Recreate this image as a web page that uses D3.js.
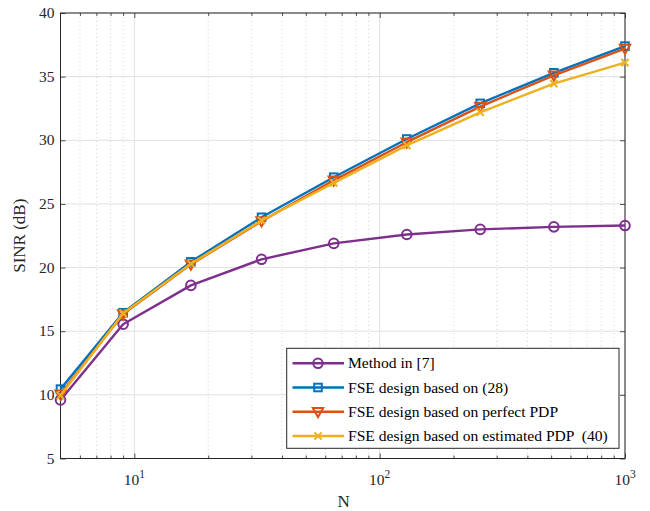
<!DOCTYPE html>
<html>
<head>
<meta charset="utf-8">
<script src="https://cdn.jsdelivr.net/npm/d3@7"></script>
<style>
  body { margin: 0; background: #fff; }
  svg text { font-family: "Liberation Serif", "Times New Roman", Tinos, "DejaVu Serif", serif; }
</style>
</head>
<body>
<div id="chart"></div>
<script>
// N values (x axis, log scale)
const nValues = [5, 9, 17, 33, 65, 129, 257, 513, 1000];

// SINR (dB) per series
const method7 = [9.6, 15.55, 18.6, 20.65, 21.9, 22.6, 23.0, 23.2, 23.3];
const fse28 = [10.45, 16.45, 20.45, 23.95, 27.1, 30.1, 32.9, 35.3, 37.4];
const fsePerfect = [10.05, 16.35, 20.25, 23.65, 26.85, 29.85, 32.65, 35.1, 37.2];
const fseEstimated = [9.95, 16.4, 20.3, 23.7, 26.65, 29.6, 32.2, 34.45, 36.1];

const seriesNames = [
  "Method in [7]",
  "FSE design based on (28)",
  "FSE design based on perfect PDP",
  "FSE design based on estimated PDP  (40)"
];
const seriesColors = ["#7E2F8E", "#0072BD", "#D95319", "#EDB120"];
const seriesMarkers = ["circle", "square", "triangle", "cross"];
const seriesValues = [method7, fse28, fsePerfect, fseEstimated];

const yTicks = [5, 10, 15, 20, 25, 30, 35, 40];
const xMajorTicks = [10, 100, 1000];

const width = 650, height = 511;
const plotLeft = 60.5, plotRight = 625, plotTop = 13, plotBottom = 458.5;
const axisColor = "#262626";
const serif = "'Liberation Serif', 'Times New Roman', Tinos, 'DejaVu Serif', serif";

const x = d3.scaleLog().domain([5, 1000]).range([plotLeft, plotRight]);
const y = d3.scaleLinear().domain([5, 40]).range([plotBottom, plotTop]);

const svg = d3.select("#chart").append("svg")
    .attr("width", width)
    .attr("height", height)
    .attr("font-family", serif);

// minor x ticks: 6..9, 20..90, 200..900
const xMinorTicks = [];
for (let d = 1; d <= 100; d *= 10) {
  for (let k = 2; k <= 9; k++) {
    const v = k * d;
    if (v > 5 && v < 1000 && !xMajorTicks.includes(v)) xMinorTicks.push(v);
  }
}

// Grid
const grid = svg.append("g");
grid.selectAll(".xminor").data(xMinorTicks).join("line")
    .attr("x1", d => x(d)).attr("x2", d => x(d))
    .attr("y1", plotTop).attr("y2", plotBottom)
    .attr("stroke", "#c8c8c8").attr("stroke-width", 0.8)
    .attr("stroke-dasharray", "1,3");
grid.selectAll(".xmajor").data(xMajorTicks).join("line")
    .attr("x1", d => x(d)).attr("x2", d => x(d))
    .attr("y1", plotTop).attr("y2", plotBottom)
    .attr("stroke", "#e0e0e0").attr("stroke-width", 1);
grid.selectAll(".ymajor").data(yTicks).join("line")
    .attr("x1", plotLeft).attr("x2", plotRight)
    .attr("y1", d => y(d)).attr("y2", d => y(d))
    .attr("stroke", "#e0e0e0").attr("stroke-width", 1);

// Axes with inward ticks, on all four sides
const xAxisBottom = d3.axisBottom(x).tickValues(xMajorTicks).tickSize(-5).tickFormat("");
const xAxisTop = d3.axisTop(x).tickValues(xMajorTicks).tickSize(-5).tickFormat("");
const xMinorBottom = d3.axisBottom(x).tickValues(xMinorTicks).tickSize(-3).tickFormat("");
const xMinorTop = d3.axisTop(x).tickValues(xMinorTicks).tickSize(-3).tickFormat("");
const yAxisLeft = d3.axisLeft(y).tickValues(yTicks).tickSize(-5).tickFormat("");
const yAxisRight = d3.axisRight(y).tickValues(yTicks).tickSize(-5).tickFormat("");

const axes = svg.append("g");
axes.append("g").attr("transform", `translate(0,${plotBottom})`).call(xAxisBottom);
axes.append("g").attr("transform", `translate(0,${plotBottom})`).call(xMinorBottom);
axes.append("g").attr("transform", `translate(0,${plotTop})`).call(xAxisTop);
axes.append("g").attr("transform", `translate(0,${plotTop})`).call(xMinorTop);
axes.append("g").attr("transform", `translate(${plotLeft},0)`).call(yAxisLeft);
axes.append("g").attr("transform", `translate(${plotRight},0)`).call(yAxisRight);
axes.selectAll(".domain").remove();
axes.selectAll("line").attr("stroke", axisColor).attr("stroke-width", 0.8);

// box
svg.append("rect")
    .attr("x", plotLeft).attr("y", plotTop)
    .attr("width", plotRight - plotLeft).attr("height", plotBottom - plotTop)
    .attr("fill", "none").attr("stroke", axisColor).attr("stroke-width", 1);

// Tick labels
svg.append("g").selectAll("text").data(yTicks).join("text")
    .attr("x", plotLeft - 6).attr("y", d => y(d)).attr("dy", "0.33em")
    .attr("text-anchor", "end")
    .attr("font-family", serif)
    .attr("font-size", 15.5).attr("fill", axisColor)
    .text(d => d);

const xLabels = svg.append("g").selectAll("text").data(xMajorTicks).join("text")
    .attr("x", d => x(d)).attr("y", 485)
    .attr("text-anchor", "middle")
    .attr("font-family", serif)
    .attr("font-size", 15.5).attr("fill", axisColor);
xLabels.append("tspan").text("10");
xLabels.append("tspan").attr("dy", -7).attr("font-size", 11.5)
    .text(d => Math.round(Math.log10(d)));

// Axis titles
svg.append("text")
    .attr("x", x(Math.sqrt(5 * 1000)) + 1).attr("y", 507)
    .attr("text-anchor", "middle")
    .attr("font-family", serif)
    .attr("font-size", 17).attr("fill", axisColor)
    .text("N");
svg.append("text")
    .attr("transform", `translate(25,${(plotTop + plotBottom) / 2}) rotate(-90)`)
    .attr("text-anchor", "middle")
    .attr("font-family", serif)
    .attr("font-size", 17).attr("fill", axisColor)
    .text("SINR (dB)");

// marker drawing
function drawMarker(sel, type, color) {
  if (type === "circle") {
    sel.append("circle").attr("r", 4.8)
        .attr("fill", "none").attr("stroke", color).attr("stroke-width", 2);
  } else if (type === "square") {
    sel.append("rect").attr("x", -3.8).attr("y", -3.8).attr("width", 7.6).attr("height", 7.6)
        .attr("fill", "none").attr("stroke", color).attr("stroke-width", 2);
  } else if (type === "triangle") {
    sel.append("path").attr("d", "M-5.2,-3.8L5.2,-3.8L0,5.4Z")
        .attr("fill", "none").attr("stroke", color).attr("stroke-width", 2);
  } else {
    sel.append("path").attr("d", "M-3.6,-3.6L3.6,3.6M-3.6,3.6L3.6,-3.6")
        .attr("fill", "none").attr("stroke", color).attr("stroke-width", 2);
  }
}

// Lines
const line = d3.line().x(d => x(d[0])).y(d => y(d[1]));
seriesValues.forEach((vals, i) => {
  const pts = nValues.map((n, j) => [n, vals[j]]);
  const g = svg.append("g");
  g.append("path").datum(pts)
      .attr("d", line)
      .attr("fill", "none")
      .attr("stroke", seriesColors[i])
      .attr("stroke-width", 2.4)
      .attr("stroke-linejoin", "round");
  g.selectAll(".m").data(pts).join("g")
      .attr("transform", d => `translate(${x(d[0])},${y(d[1])})`)
      .each(function () { drawMarker(d3.select(this), seriesMarkers[i], seriesColors[i]); });
});

// Legend
const legend = svg.append("g");
legend.append("rect")
    .attr("x", 286.7).attr("y", 348.3)
    .attr("width", 332.3).attr("height", 100)
    .attr("fill", "#fff").attr("stroke", axisColor).attr("stroke-width", 1);
const legendY = [363.3, 387.5, 411.7, 436];
const item = legend.selectAll(".item").data(seriesNames).join("g")
    .attr("transform", (d, i) => `translate(0,${legendY[i]})`);
item.append("line")
    .attr("x1", 292.5).attr("x2", 344)
    .attr("stroke", (d, i) => seriesColors[i]).attr("stroke-width", 2.4);
item.append("g").attr("transform", "translate(318,0)")
    .each(function (d, i) { drawMarker(d3.select(this), seriesMarkers[i], seriesColors[i]); });
item.append("text")
    .attr("x", 348).attr("dy", "0.33em")
    .attr("font-family", serif)
    .attr("font-size", 15.6).attr("fill", "#000")
    .style("white-space", "pre")
    .text(d => d);
</script>
</body>
</html>
